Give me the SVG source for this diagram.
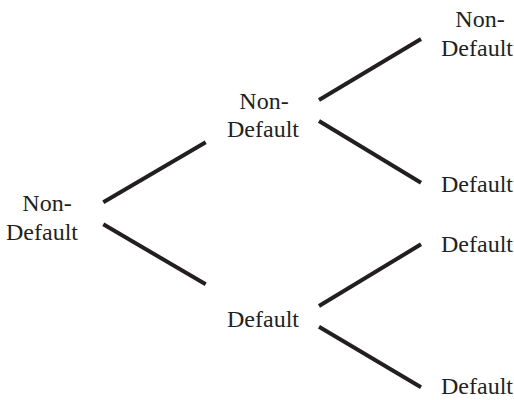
<svg xmlns="http://www.w3.org/2000/svg" width="514" height="400" viewBox="0 0 514 400">
<style>
text{font-size:24px;fill:#231f20;text-anchor:middle}
.e{stroke:#231f20;stroke-width:4;stroke-linecap:butt;fill:none}
</style>
<rect width="514" height="400" fill="#fff"/>
<g id="connectors">
<line class="e" x1="103.3" y1="202.3" x2="205.7" y2="142.3"/>
<line class="e" x1="103.3" y1="224.3" x2="205.7" y2="284.3"/>
<line class="e" x1="319" y1="100" x2="421" y2="39"/>
<line class="e" x1="319" y1="121" x2="421" y2="182.7"/>
<line class="e" x1="319" y1="306" x2="421" y2="244.3"/>
<line class="e" x1="319" y1="326.7" x2="421" y2="387.3"/>
</g>
<g font-family="Liberation Serif, Times New Roman, serif">
<g id="n0"><text x="47" y="211">Non-</text><text x="42" y="240">Default</text></g>
<g id="n1"><text x="264" y="109">Non-</text><text x="263" y="137">Default</text></g>
<g id="n2"><text x="263" y="327">Default</text></g>
<g id="n3"><text x="480" y="27">Non-</text><text x="477" y="56">Default</text></g>
<g id="n4"><text x="477" y="192">Default</text></g>
<g id="n5"><text x="477" y="252">Default</text></g>
<g id="n6"><text x="477" y="394">Default</text></g>
</g>
</svg>
